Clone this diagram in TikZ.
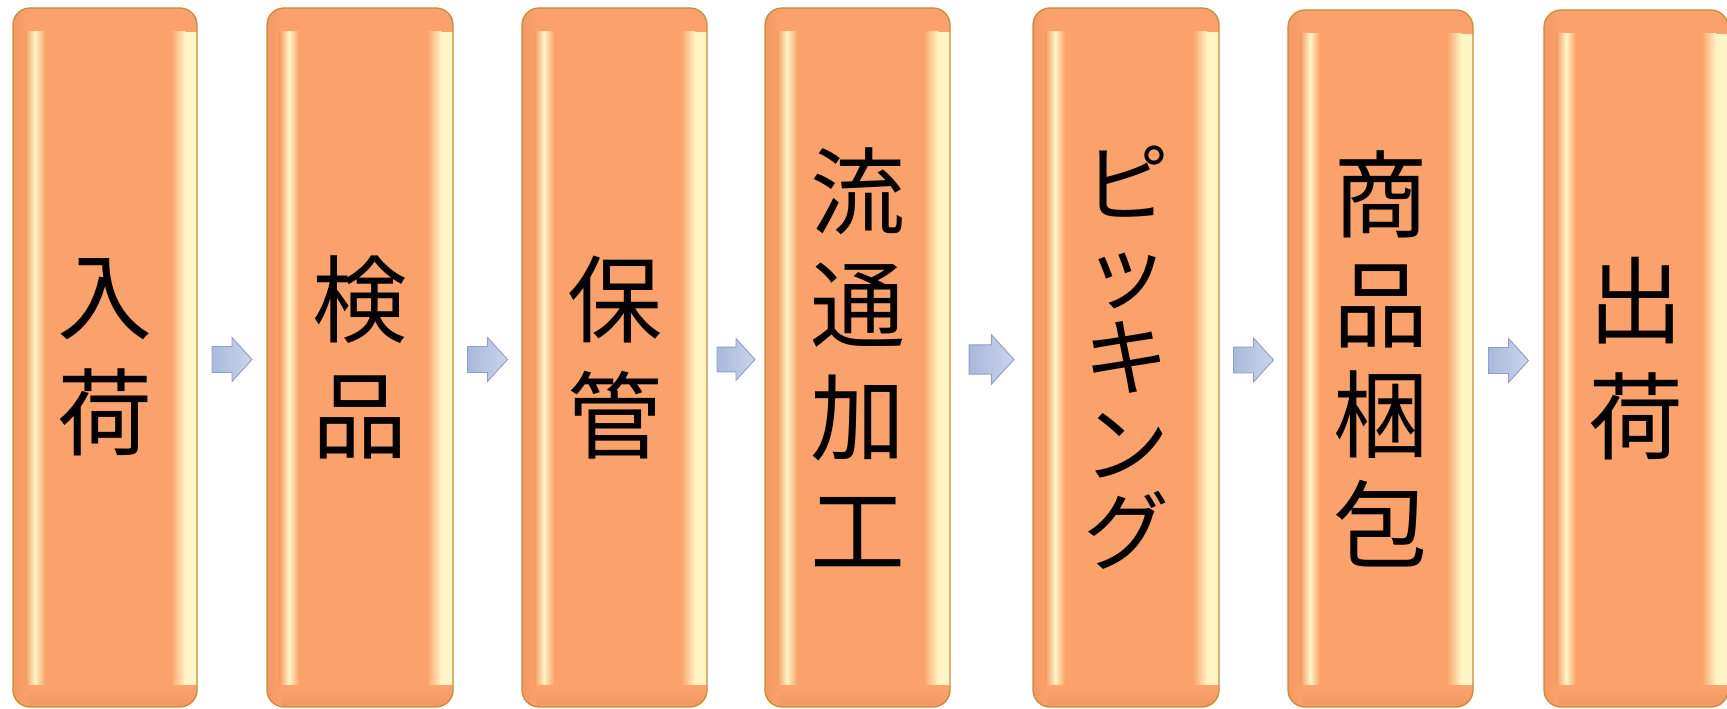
\documentclass[tikz,border=0pt]{standalone}
\usepackage{fontspec}
\newfontfamily\cjk{Noto Sans CJK JP}
\usetikzlibrary{calc}
\definecolor{boxfill}{HTML}{FBA26C}
\definecolor{boxedge}{HTML}{C98A3C}
\definecolor{boxdark}{HTML}{F39862}
\definecolor{hl}{HTML}{FFF5C4}
\definecolor{arrleft}{HTML}{A9B9DC}
\definecolor{arrright}{HTML}{CAD5EC}
\definecolor{arredge}{HTML}{8E9FC6}
\begin{document}
\begin{tikzpicture}[x=1pt,y=1pt,
  stagebox/.style={rounded corners=17pt, fill=boxfill, draw=boxedge, line width=1.3pt,
    minimum width=185pt, minimum height=699pt, inner sep=0pt, align=center, text=black,
    font=\cjk\fontsize{95}{116}\selectfont,
    path picture={
      \path (path picture bounding box.north west) coordinate (pnw)
            (path picture bounding box.south east) coordinate (pse);
      \shade[sharp corners, bottom color=boxdark, top color=boxfill]
        (pnw|-pse) rectangle ($(pse)+(0pt,20pt)$);
      \shade[sharp corners, left color=boxdark, right color=boxfill]
        (pnw) rectangle ($(pnw|-pse)+(14pt,0pt)$);
      \shade[sharp corners, left color=boxdark, right color=boxfill, middle color=hl]
        ($(pnw)+(12pt,-24pt)$) rectangle ($(pnw|-pse)+(32pt,22pt)$);
      \shade[sharp corners, left color=boxfill, right color=hl]
        ($(pse|-pnw)+(-26pt,-24pt)$) rectangle ($(pse)+(-12pt,22pt)$);
      \fill[sharp corners, hl]
        ($(pse|-pnw)+(-12pt,-24pt)$) rectangle ($(pse)+(0pt,22pt)$);
    }},
  kanabox/.style={stagebox, font=\cjk\fontsize{86}{87}\selectfont},
  barrow/.pic={\shadedraw[left color=arrleft, right color=arrright, draw=arredge,
      line width=0.9pt, line join=miter]
      (-20,-13) -- (0,-13) -- (0,-22) -- (20,0) -- (0,22) -- (0,13) -- (-20,13) -- cycle;}
]
\useasboundingbox (0,0) rectangle (1727,709);

\node[stagebox, minimum width=184pt] (b1) at (105,351.5) {入\\荷};
\node[stagebox, minimum width=186pt] (b2) at (360,351.5) {検\\品};
\node[stagebox] (b3) at (614.5,351.5) {保\\管};
\node[stagebox, font=\cjk\fontsize{95}{113}\selectfont] (b4) at (857.5,351.5) {流\\通\\加\\工};
\node[kanabox, minimum width=186pt] (b5) at (1126,351.5) {ピ\\ッ\\キ\\ン\\グ};
\node[stagebox, minimum height=697pt, font=\cjk\fontsize{95}{110}\selectfont] (b6) at (1380.5,350.5) {商\\品\\梱\\包};
\node[stagebox, minimum height=697pt, minimum width=184pt] (b7) at (1636,350.5) {出\\荷};

\path ($(b1.east)!0.5!(b2.west)+(0,-2)$) pic {barrow};
\path ($(b2.east)!0.5!(b3.west)+(0,-2)$) pic {barrow};
\path ($(b3.east)!0.5!(b4.west)+(0,-2)$) pic[scale=0.95] {barrow};
\path ($(b4.east)!0.5!(b5.west)+(0,-2)$) pic[scale=1.12] {barrow};
\path ($(b5.east)!0.5!(b6.west)+(0,-2)$) pic {barrow};
\path ($(b6.east)!0.5!(b7.west)+(0,-2)$) pic {barrow};
\end{tikzpicture}
\end{document}
